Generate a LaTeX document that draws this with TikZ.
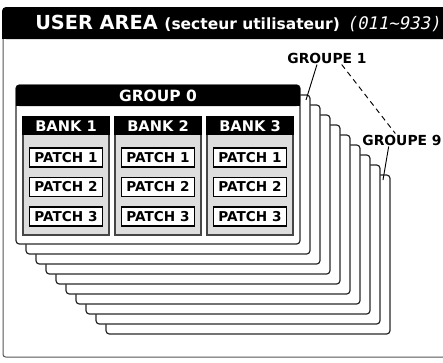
\documentclass[tikz,border=0pt]{standalone}
\usepackage{fontspec}
\setmainfont{DejaVu Sans}
\newfontfamily\segfont{DejaVu Sans Mono}[FakeSlant=0.2]

\tikzset{
  groupbox/.style={draw={rgb,255:red,40;green,40;blue,40}, fill=white, line width=0.9pt, rounded corners=2.5},
  bankbox/.style={draw={rgb,255:red,70;green,70;blue,70}, fill={rgb,255:red,221;green,221;blue,221}, line width=0.9pt},
  patchbox/.style={draw=black, fill=white, line width=1pt, minimum width=54.75pt, minimum height=14.25pt, inner sep=0pt, font=\fontsize{10.2}{12}\bfseries},
  headtext/.style={text=white, inner sep=0pt},
  calltext/.style={inner sep=0.75pt, font=\fontsize{10.4}{12}\bfseries}
}

\begin{document}
\begin{tikzpicture}[x=0.75pt,y=0.75pt,yscale=-1,xscale=1]
\useasboundingbox (0,0) rectangle (443,362);

%Shape: user area frame
\draw [color={rgb, 255:red, 85; green, 85; blue, 85 }, line width=0.75, rounded corners=2] (3,38) -- (3,357) -- (450,357) ;
%Shape: user area header
\fill [rounded corners=3] (2,7) rectangle (450,39) ;
\fill (2,30) rectangle (12,39) ;

% Text Node
\node [headtext, anchor=west] (area) at (35,23) {\fontsize{14.5}{16}\bfseries USER AREA {\fontsize{11.6}{13}\selectfont (secteur utilisateur)} {\fontsize{13}{15}\mdseries\segfont (011\textasciitilde933)}};

%Shape: stacked groups, back to front
\foreach \k in {9,...,0} {
  \draw [groupbox] (16+10*\k,85+10*\k) rectangle ++(284,159) ;
}

%Shape: group 0 header
\fill [rounded corners=2.5] (16,85) rectangle (300,106) ;
\fill (16,98) rectangle (300,106) ;
\node [headtext, font=\fontsize{11.6}{13}\bfseries] (grp0) at (158,95.5) {GROUP 0};

%Shape: banks and patches
\foreach \b/\x in {1/23,2/115,3/207} {
  \draw [bankbox] (\x,117) rectangle ++(86,118) ;
  \fill (\x-0.6,116.4) rectangle ++(87.2,18.6) ;
  \node [headtext, font=\fontsize{11}{13}\bfseries] (bank\b) at (\x+43,126) {BANK \b};
  \foreach \p/\y in {1/157.5,2/187,3/216.5} {
    \node [patchbox] (patch\b\p) at (\x+43,\y) {PATCH \p};
  }
}

% Text Node
\node [calltext] (grp1lbl) at (327,58) {GROUPE 1};
\node [calltext] (grp9lbl) at (402,140) {GROUPE 9};
\coordinate (g1pin) at (306,100) ;
\coordinate (g9pin) at (383,180) ;

%Straight Lines
\draw [line width=0.7] ([xshift=-7.5]grp1lbl.south) -- (g1pin) ;
\draw [line width=0.7] ([xshift=-10]grp9lbl.south) -- (g9pin) ;
\draw [line width=0.7, dash pattern=on 4pt off 3pt] ([xshift=11]grp1lbl.south) -- ([xshift=-5]grp9lbl.north) ;

\end{tikzpicture}
\end{document}
